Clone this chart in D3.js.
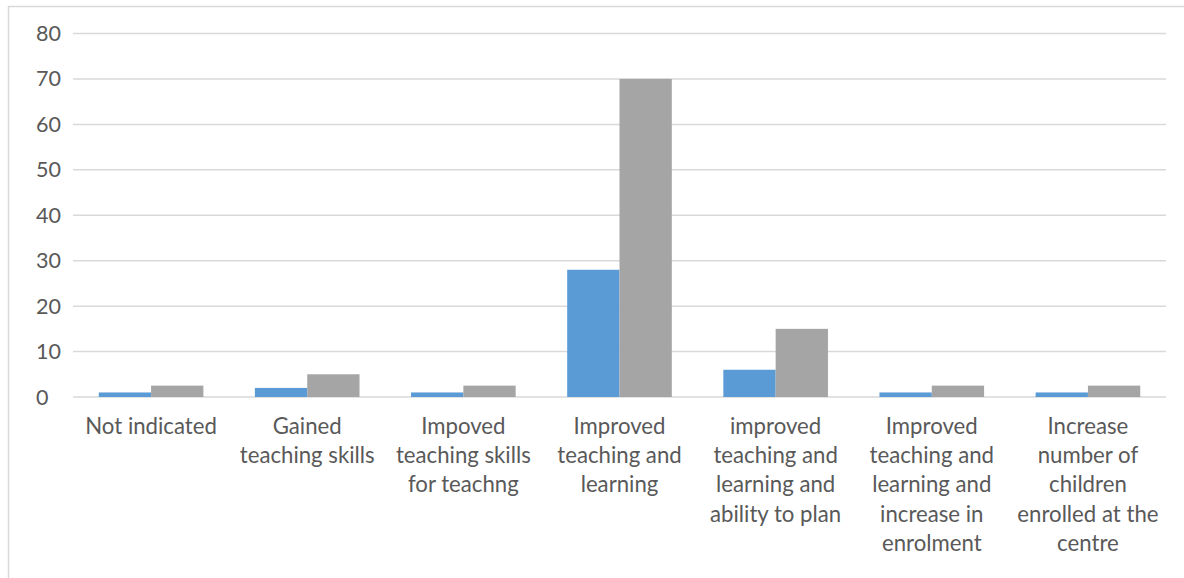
<!DOCTYPE html>
<html><head><meta charset="utf-8">
<script src="https://cdn.jsdelivr.net/npm/d3@7"></script>
<style>body{margin:0;background:#fff;} svg{display:block;}</style>
</head><body>
<svg id="chart" width="1184" height="578"></svg>
<script>
const categories = [
  ["Not indicated"],
  ["Gained", "teaching skills"],
  ["Impoved", "teaching skills", "for teachng"],
  ["Improved", "teaching and", "learning"],
  ["improved", "teaching and", "learning and", "ability to plan"],
  ["Improved", "teaching and", "learning and", "increase in", "enrolment"],
  ["Increase", "number of", "children", "enrolled at the", "centre"]
];
const seriesCount = [1, 2, 1, 28, 6, 1, 1];
const seriesPercent = [2.5, 5, 2.5, 70, 15, 2.5, 2.5];
const yTicks = [0, 10, 20, 30, 40, 50, 60, 70, 80];

(function () {
const svg = d3.select("#chart");
const mLeft = 73, mRight = 1166, mTop = 33.5, mBottom = 397;
const font = "Lato, 'Open Sans', sans-serif";

// outer border
svg.append("rect").attr("x", 8.5).attr("y", 6.5).attr("width", 1200).attr("height", 600)
  .attr("fill", "none").attr("stroke", "#d9d9d9").attr("stroke-width", 1.5);

const y = d3.scaleLinear().domain([0, 80]).range([mBottom, mTop]);
const x = d3.scaleBand().domain(d3.range(categories.length)).range([mLeft, mRight]).paddingInner(0.33).paddingOuter(0.165);
const xs = d3.scaleBand().domain([0, 1]).range([0, x.bandwidth()]);

// gridlines
svg.append("g").selectAll("line").data(yTicks).join("line")
  .attr("x1", mLeft).attr("x2", mRight)
  .attr("y1", d => y(d)).attr("y2", d => y(d))
  .attr("stroke", "#d9d9d9").attr("stroke-width", 1.5);

// y tick labels
svg.append("g").selectAll("text").data(yTicks).join("text")
  .attr("x", 36).attr("y", d => y(d)).attr("dy", "0.35em")
  .attr("font-family", font).attr("font-size", 21.5).attr("fill", "#595959")
  .text(d => d);

const colors = ["#5b9bd5", "#a5a5a5"];
const series = [seriesCount, seriesPercent];
series.forEach((vals, si) => {
  svg.append("g").selectAll("rect").data(vals).join("rect")
    .attr("x", (d, i) => x(i) + xs(si))
    .attr("width", xs.bandwidth())
    .attr("y", d => y(d))
    .attr("height", d => mBottom - y(d))
    .attr("fill", colors[si]);
});

// x labels
const lab = svg.append("g");
categories.forEach((lines, i) => {
  const cx = x(i) + x.bandwidth() / 2;
  const t = lab.append("text").attr("text-anchor", "middle")
    .attr("font-family", font).attr("font-size", 22.2).attr("fill", "#595959");
  lines.forEach((ln, j) => {
    t.append("tspan").attr("x", cx).attr("y", 433.5 + j * 29.4).text(ln);
  });
});
})();
</script>
</body></html>
